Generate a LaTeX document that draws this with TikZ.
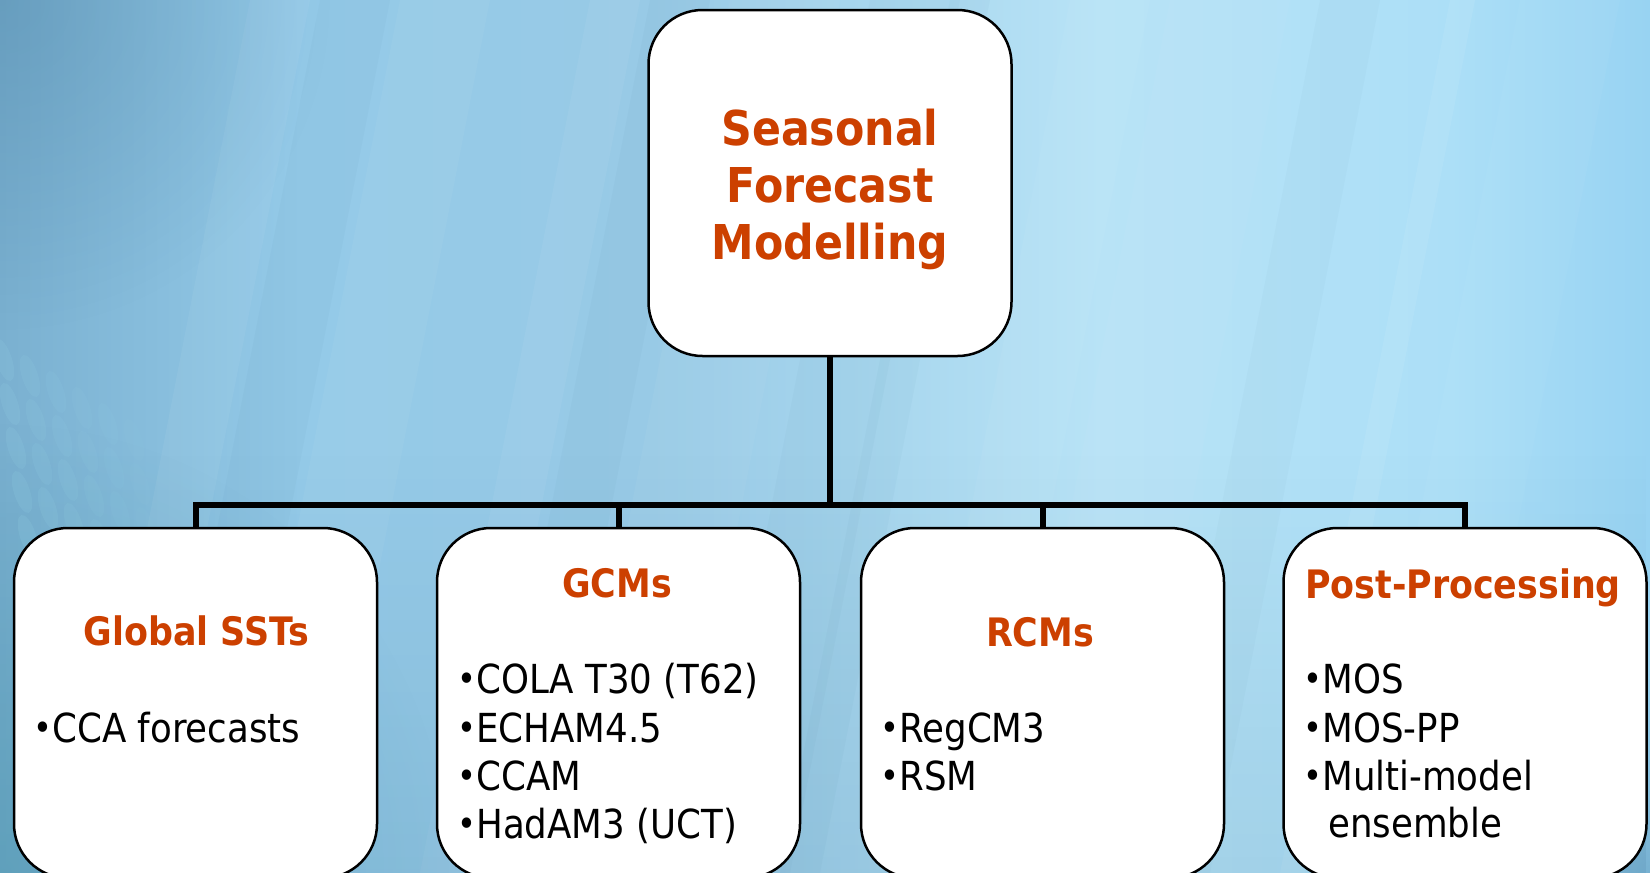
\documentclass[tikz,border=0pt]{standalone}
\usepackage{fontspec}
\setmainfont{DejaVu Sans}[FakeStretch=0.89]
\usetikzlibrary{fadings}
\definecolor{ttlc}{RGB}{204,64,0}
\definecolor{bg0}{RGB}{122,176,208}
\definecolor{bg1}{RGB}{148,202,232}
\definecolor{bg2}{RGB}{152,202,230}
\definecolor{bg3}{RGB}{184,227,246}
\definecolor{bg4}{RGB}{172,223,247}
\definecolor{bg5}{RGB}{152,211,242}
\definecolor{dkb}{RGB}{60,115,150}
\definecolor{tlb}{RGB}{70,150,170}
\definecolor{ovc}{RGB}{150,212,230}
\tikzfading[name=radfade, inner color=transparent!0, outer color=transparent!100]
\newcommand\bul{\makebox[8pt][l]{\hspace{-1.5pt}\fontsize{18}{18}\selectfont\raisebox{0.6pt}{•}}}
\begin{document}
\begin{tikzpicture}[x=0.5pt,y=-0.5pt,
  box/.style={draw=black, line width=1.25pt, fill=white, rounded corners=27pt,
    minimum width=181.5pt, inner sep=0pt},
  topbox/.style={box, minimum height=173pt},
  subbox/.style={box, minimum height=175pt},
  conn/.style={draw=black, line width=3pt, line join=miter},
  ttl/.style={text=ttlc, font=\bfseries\fontsize{24}{28}\selectfont, anchor=base, inner sep=0pt},
  hd/.style={text=ttlc, font=\bfseries\fontsize{19.6}{23}\selectfont, anchor=base, inner sep=0pt},
  itm/.style={text=black, font=\fontsize{20}{24}\selectfont, anchor=base west, inner sep=0pt}]
\useasboundingbox (0,0) rectangle (1650,873);
% ---------- background ----------
\begin{scope}
\clip (0,0) rectangle (1650,873);
\shade[left color=bg0,right color=bg1] (0,0) rectangle (302,873);
\shade[left color=bg1,right color=bg2] (300,0) rectangle (652,873);
\shade[left color=bg2,right color=bg3] (650,0) rectangle (1102,873);
\shade[left color=bg3,right color=bg4] (1100,0) rectangle (1452,873);
\shade[left color=bg4,right color=bg5] (1450,0) rectangle (1650,873);
\foreach \x/\w/\o in {80/60/0.05, 230/90/0.04, 420/50/0.05, 560/110/0.04, 900/80/0.04, 1280/25/0.07, 1350/100/0.03, 1000/120/0.03}
  \fill[white,opacity=\o] (\x+170,0) -- (\x+170+\w,0) -- (\x+\w,873) -- (\x,873) -- cycle;
\foreach \x/\w/\o in {150/70/0.04, 480/60/0.04, 700/90/0.04, 1150/60/0.03, 780/40/0.04}
  \fill[dkb,opacity=\o] (\x+170,0) -- (\x+170+\w,0) -- (\x+\w,873) -- (\x,873) -- cycle;
\fill[dkb, opacity=0.14, path fading=north] (0,450) rectangle (1650,873);
\fill[dkb, opacity=0.30, path fading=radfade] (0,0) circle (330);
\fill[tlb, opacity=0.40, path fading=radfade] (0,873) circle (450);
\fill[dkb, opacity=0.35, path fading=radfade] (1650,873) circle (200);
\foreach \i in {0,...,7}{
  \foreach \j in {0,...,11}{
    \pgfmathsetmacro\op{0.16*(1-\i/8)}
    \fill[ovc, opacity=\op] ({4+26*\i+6*\j},{360+44*\j+16*\i}) ellipse [x radius=8, y radius=22, rotate=18];
  }
}
\end{scope}
% ---------- boxes ----------
\node[topbox] (top) at (830,183) {};
\node[subbox] (b1) at (195.5,703) {};
\node[subbox] (b2) at (618.5,703) {};
\node[subbox] (b3) at (1042.5,703) {};
\node[subbox] (b4) at (1465,703) {};
% ---------- connectors ----------
\coordinate (hub) at (830,505);
\draw[conn] (top.south) -- (hub);
\draw[conn] (b1.north) |- (hub) -| (b4.north);
\draw[conn] (b2.north) -- (b2.north |- hub);
\draw[conn] (b3.north) -- (b3.north |- hub);
% ---------- texts ----------
\node[ttl] (t1) at (830,145) {Seasonal};
\node[ttl] (t2) at (830,202) {Forecast};
\node[ttl] (t3) at (830,259) {Modelling};
\node[hd] (h1) at (196.5,645) {Global SSTs};
\node[hd] (h2) at (617,597) {GCMs};
\node[hd] (h3) at (1040,646) {RCMs};
\node[hd] (h4) at (1463,598) {Post-Processing};
\node[itm] (i11) at (36,742) {\bul CCA forecasts};
\node[itm] (i21) at (460,693) {\bul COLA T30 (T62)};
\node[itm] (i22) at (460,742) {\bul ECHAM4.5};
\node[itm] (i23) at (460,790) {\bul CCAM};
\node[itm] (i24) at (460,838) {\bul HadAM3 (UCT)};
\node[itm] (i31) at (883,742) {\bul RegCM3};
\node[itm] (i32) at (883,790) {\bul RSM};
\node[itm] (i41) at (1306,693) {\bul MOS};
\node[itm] (i42) at (1306,742) {\bul MOS-PP};
\node[itm] (i43) at (1306,790) {\bul Multi-model};
\node[itm] (i44) at (1328,837) {ensemble};
\end{tikzpicture}
\end{document}
